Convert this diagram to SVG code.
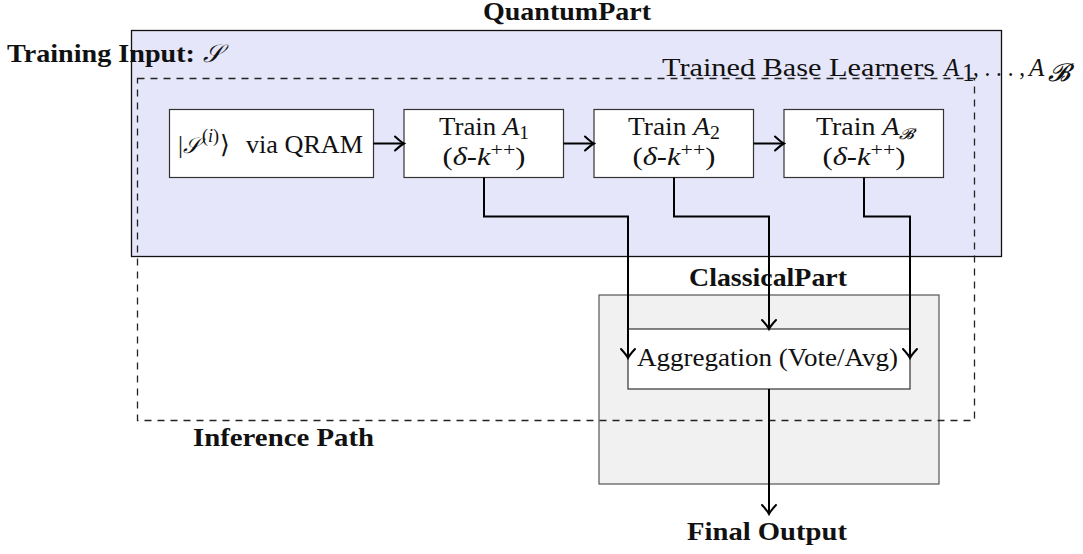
<svg xmlns="http://www.w3.org/2000/svg" width="1083" height="554" viewBox="0 0 1083 554">
<style>
text{font-family:"Liberation Serif","DejaVu Serif","DejaVu Sans",serif;font-size:25px;fill:#111}
.b{font-weight:bold}
.i{font-style:italic}
.box{fill:#fff;stroke:#333;stroke-width:1.2}
.conn{fill:none;stroke:#000;stroke-width:2}
</style>
<defs>
<marker id="arr" markerUnits="userSpaceOnUse" markerWidth="14" markerHeight="18" viewBox="-11 -9 13 18" refX="0" refY="0" orient="auto" overflow="visible">
<path d="M-9,-7 Q-3,-1.5 0,0 Q-3,1.5 -9,7" fill="none" stroke="#000" stroke-width="2" stroke-linecap="round"/>
</marker>
</defs>

<g id="QuantumPart">
<rect x="131.5" y="30.5" width="870" height="226" fill="#e6e6fa" stroke="#111" stroke-width="1.3"/>
<text class="b" x="483" y="20" font-size="22" textLength="168" lengthAdjust="spacingAndGlyphs">QuantumPart</text>
</g>

<g id="ClassicalPart">
<rect x="599" y="295" width="340" height="189" fill="#f1f1f1" stroke="#555" stroke-width="1.2"/>
<text class="b" x="689" y="286" textLength="158" lengthAdjust="spacingAndGlyphs">ClassicalPart</text>
</g>

<g id="InferencePath">
<rect x="137.5" y="78.5" width="837" height="342" fill="none" stroke="#222" stroke-width="1.3" stroke-dasharray="7,6"/>
<text class="b" x="193" y="446" textLength="181" lengthAdjust="spacingAndGlyphs">Inference Path</text>
</g>

<g id="TrainingInput">
<text class="b" x="7" y="62" textLength="188" lengthAdjust="spacingAndGlyphs">Training Input:</text>
<text class="i" x="203" y="62" font-size="23">𝒮</text>
</g>

<g id="TrainedLearners">
<text x="662" y="76" font-size="28" textLength="273" lengthAdjust="spacingAndGlyphs">Trained Base Learners</text>
<text class="i" x="944" y="76" font-size="28">A</text>
<text x="962" y="81" font-size="18">1</text>
<text x="973" y="76" font-size="28" textLength="52" lengthAdjust="spacingAndGlyphs">, . . . ,</text>
<text class="i" x="1029" y="76" font-size="28">A</text>
<text class="i" x="1048" y="81" font-size="15">𝓑</text>
</g>

<g id="QRAM">
<rect class="box" x="169.5" y="109.5" width="204" height="68"/>
<text x="178" y="153">|<tspan class="i" font-size="22">𝒮</tspan><tspan dx="2" dy="-11" font-size="18">(<tspan class="i">i</tspan>)</tspan><tspan dx="1" dy="11">⟩</tspan></text>
<text x="246" y="153" textLength="117" lengthAdjust="spacingAndGlyphs">via QRAM</text>
</g>

<g id="TrainA1">
<rect class="box" x="404" y="109.5" width="159.5" height="68"/>
<text x="484" y="135" text-anchor="middle" textLength="90" lengthAdjust="spacingAndGlyphs">Train <tspan class="i">A</tspan><tspan dy="4" font-size="18">1</tspan></text>
<text x="484" y="165" text-anchor="middle" textLength="83" lengthAdjust="spacingAndGlyphs">(<tspan class="i">δ</tspan>-<tspan class="i">k</tspan><tspan dy="-9" font-size="18">++</tspan><tspan dy="9">)</tspan></text>
</g>

<g id="TrainA2">
<rect class="box" x="594" y="109.5" width="159.5" height="68"/>
<text x="674" y="135" text-anchor="middle" textLength="92" lengthAdjust="spacingAndGlyphs">Train <tspan class="i">A</tspan><tspan dy="4" font-size="18">2</tspan></text>
<text x="674" y="165" text-anchor="middle" textLength="83" lengthAdjust="spacingAndGlyphs">(<tspan class="i">δ</tspan>-<tspan class="i">k</tspan><tspan dy="-9" font-size="18">++</tspan><tspan dy="9">)</tspan></text>
</g>

<g id="TrainAB">
<rect class="box" x="784" y="109.5" width="159.5" height="68"/>
<text x="865" y="135" text-anchor="middle" textLength="98" lengthAdjust="spacingAndGlyphs">Train <tspan class="i">A</tspan><tspan dy="4" font-size="15" class="i">𝓑</tspan></text>
<text x="864" y="165" text-anchor="middle" textLength="83" lengthAdjust="spacingAndGlyphs">(<tspan class="i">δ</tspan>-<tspan class="i">k</tspan><tspan dy="-9" font-size="18">++</tspan><tspan dy="9">)</tspan></text>
</g>

<g id="Aggregation">
<rect class="box" x="628" y="329" width="282" height="60"/>
<text x="637" y="366" textLength="261" lengthAdjust="spacingAndGlyphs">Aggregation (Vote/Avg)</text>
</g>

<g id="FinalOutput">
<text class="b" x="687" y="540" textLength="160" lengthAdjust="spacingAndGlyphs">Final Output</text>
</g>

<g id="connectors">
<path class="conn" d="M373.5,143.5 H404" marker-end="url(#arr)"/>
<path class="conn" d="M563.5,143.5 H594" marker-end="url(#arr)"/>
<path class="conn" d="M753.5,143.5 H784" marker-end="url(#arr)"/>
<path class="conn" d="M484,177.5 V216.5 H628 V358" marker-end="url(#arr)"/>
<path class="conn" d="M674,177.5 V216.5 H769 V329" marker-end="url(#arr)"/>
<path class="conn" d="M864,177.5 V216.5 H910 V358" marker-end="url(#arr)"/>
<path class="conn" d="M769,389 V514" marker-end="url(#arr)"/>
</g>
</svg>
